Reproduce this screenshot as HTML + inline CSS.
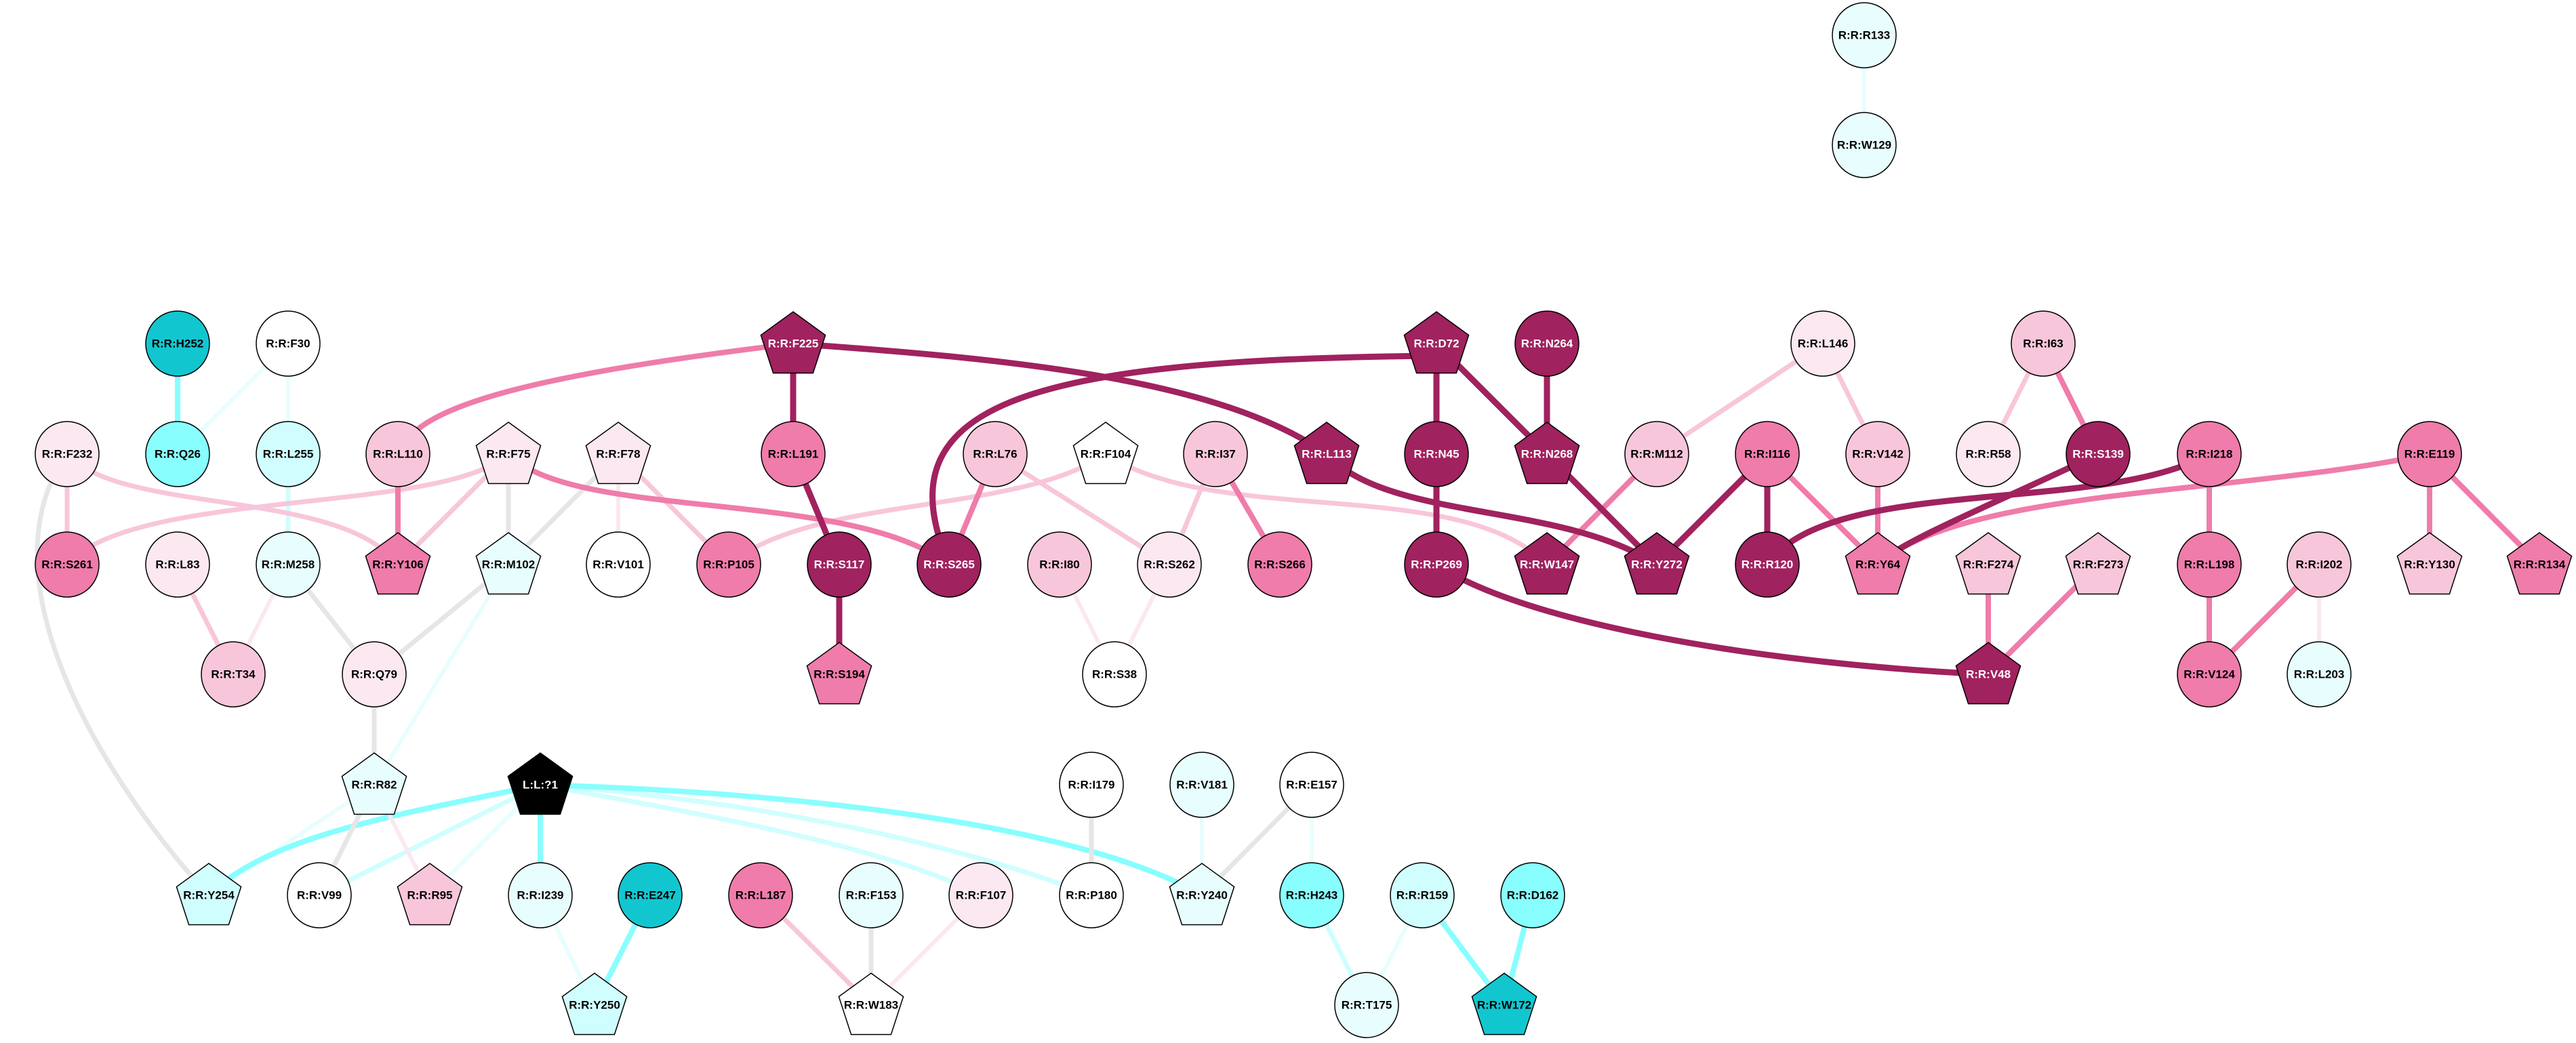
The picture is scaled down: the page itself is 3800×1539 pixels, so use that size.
<!DOCTYPE html>
<html><head><meta charset="utf-8"><style>
html,body{margin:0;padding:0;background:#fff;}
svg{display:block;}
text{font-family:"Liberation Sans",sans-serif;font-weight:bold;font-size:17px;text-anchor:middle;dominant-baseline:central;}
.w{fill:#fff;}
</style></head><body>
<svg width="3800" height="1539" viewBox="0 0 3800 1539" xmlns="http://www.w3.org/2000/svg">
<defs>
<polygon id="pg" points="0,-47 47.6,-12.5 29.4,43.5 -29.4,43.5 -47.6,-12.5" stroke="#000" stroke-width="1.5"/>
</defs>
<g fill="none" stroke-linecap="butt">
<!-- cyan/gray/light edges -->
<g stroke="#e8fefe" stroke-width="6">
<line x1="425" y1="507" x2="262" y2="670"/>
<line x1="425" y1="507" x2="425" y2="670"/>
<line x1="750" y1="833" x2="552" y2="1158"/>
<line x1="552" y1="1158" x2="308" y2="1321"/>
<line x1="797" y1="1158" x2="634" y2="1321"/>
<line x1="797" y1="1321" x2="877" y2="1483"/>
<line x1="1773" y1="1158" x2="1773" y2="1321"/>
<line x1="1935" y1="1158" x2="1935" y2="1321"/>
<line x1="2098" y1="1321" x2="2016" y2="1483"/>
<line x1="2750" y1="52" x2="2750" y2="214"/>
</g>
<g stroke="#d0fefe" stroke-width="7">
<line x1="425" y1="670" x2="425" y2="833"/>
<line x1="797" y1="1158" x2="471" y2="1321"/>
<line x1="1935" y1="1321" x2="2016" y2="1483"/>
<path d="M797,1158 C1100,1180 1400,1240 1610,1321"/>
<path d="M797,1158 C1000,1195 1300,1245 1447,1321"/>
</g>
<g stroke="#88fefe" stroke-width="8">
<line x1="262" y1="507" x2="262" y2="670"/>
<line x1="797" y1="1158" x2="797" y2="1321"/>
<line x1="959" y1="1321" x2="877" y2="1483"/>
<line x1="2098" y1="1321" x2="2219" y2="1483"/>
<line x1="2261" y1="1321" x2="2219" y2="1483"/>
<path d="M797,1158 C600,1200 400,1230 308,1321"/>
<path d="M797,1158 C1200,1170 1600,1220 1773,1321"/>
</g>
<g stroke="#e6e6e6" stroke-width="7">
<line x1="750" y1="670" x2="750" y2="833"/>
<line x1="912" y1="670" x2="750" y2="833"/>
<line x1="425" y1="833" x2="552" y2="995"/>
<line x1="750" y1="833" x2="552" y2="995"/>
<line x1="552" y1="995" x2="552" y2="1158"/>
<line x1="552" y1="1158" x2="471" y2="1321"/>
<line x1="1285" y1="1321" x2="1285" y2="1483"/>
<line x1="1610" y1="1158" x2="1610" y2="1321"/>
<line x1="1935" y1="1158" x2="1773" y2="1321"/>
<path d="M99,670 C-30,850 150,1150 308,1321"/>
</g>
<g stroke="#fbe8f0" stroke-width="6">
<line x1="912" y1="670" x2="912" y2="833"/>
<line x1="425" y1="833" x2="344" y2="995"/>
<line x1="552" y1="1158" x2="634" y2="1321"/>
<line x1="1563" y1="833" x2="1644" y2="995"/>
<line x1="1725" y1="833" x2="1644" y2="995"/>
<line x1="1447" y1="1321" x2="1285" y2="1483"/>
<line x1="3421" y1="833" x2="3421" y2="995"/>
</g>
<g stroke="#f8c6da" stroke-width="7">
<line x1="99" y1="670" x2="99" y2="833"/>
<line x1="750" y1="670" x2="587" y2="833"/>
<line x1="912" y1="670" x2="1075" y2="833"/>
<line x1="262" y1="833" x2="344" y2="995"/>
<line x1="1468" y1="670" x2="1725" y2="833"/>
<line x1="1793" y1="670" x2="1725" y2="833"/>
<line x1="1122" y1="1321" x2="1285" y2="1483"/>
<line x1="2689" y1="507" x2="2444" y2="670"/>
<line x1="2689" y1="507" x2="2770" y2="670"/>
<line x1="3014" y1="507" x2="2933" y2="670"/>
<path d="M99,670 C180,760 500,720 587,833"/>
<path d="M750,670 C650,760 200,720 99,833"/>
<path d="M1631,670 C1500,760 1200,730 1075,833"/>
<path d="M1631,670 C1800,780 2150,700 2282,833"/>
</g>
<g stroke="#ef7caa" stroke-width="8">
<line x1="587" y1="670" x2="587" y2="833"/>
<line x1="1468" y1="670" x2="1400" y2="833"/>
<line x1="1793" y1="670" x2="1888" y2="833"/>
<line x1="2444" y1="670" x2="2282" y2="833"/>
<line x1="2770" y1="670" x2="2770" y2="833"/>
<line x1="2607" y1="670" x2="2770" y2="833"/>
<line x1="3014" y1="507" x2="3095" y2="670"/>
<line x1="3259" y1="670" x2="3259" y2="833"/>
<line x1="3259" y1="833" x2="3259" y2="995"/>
<line x1="3421" y1="833" x2="3259" y2="995"/>
<line x1="3584" y1="670" x2="3584" y2="833"/>
<line x1="3584" y1="670" x2="3746" y2="833"/>
<line x1="2933" y1="833" x2="2933" y2="995"/>
<line x1="3095" y1="833" x2="2933" y2="995"/>
<path d="M1170,507 C900,540 650,580 600,650"/>
<path d="M750,670 C850,770 1250,720 1400,833"/>
<path d="M3584,670 C3300,730 2900,720 2770,833"/>
</g>
<g stroke="#a0225e" stroke-width="9">
<line x1="1170" y1="507" x2="1170" y2="670"/>
<line x1="1170" y1="670" x2="1238" y2="833"/>
<line x1="1238" y1="833" x2="1238" y2="995"/>
<line x1="2119" y1="507" x2="2119" y2="670"/>
<line x1="2119" y1="507" x2="2282" y2="670"/>
<line x1="2282" y1="507" x2="2282" y2="670"/>
<line x1="2119" y1="670" x2="2119" y2="833"/>
<line x1="2282" y1="670" x2="2444" y2="833"/>
<line x1="2607" y1="670" x2="2607" y2="833"/>
<line x1="2607" y1="670" x2="2444" y2="833"/>
<path d="M1170,507 C1500,530 1800,560 1957,670"/>
<path d="M1957,670 C2050,770 2300,740 2444,833"/>
<path d="M2119,525 C1500,530 1300,600 1400,833"/>
<path d="M2119,833 C2250,920 2600,980 2933,995"/>
<path d="M3095,670 C2950,740 2800,800 2770,833"/>
<path d="M3259,670 C3100,760 2700,700 2607,833"/>
</g>
</g>
<!-- nodes -->
<g stroke="#000" stroke-width="1.5">
<ellipse cx="2750" cy="52" rx="47" ry="48" fill="#e8fefe"/>
<ellipse cx="2750" cy="214" rx="47" ry="48" fill="#e8fefe"/>
<ellipse cx="262" cy="507" rx="47" ry="48" fill="#12c6d0"/>
<ellipse cx="425" cy="507" rx="47" ry="48" fill="#fff"/>
<ellipse cx="2282" cy="507" rx="47" ry="48" fill="#a0225e"/>
<ellipse cx="2689" cy="507" rx="47" ry="48" fill="#fbe8f0"/>
<ellipse cx="3014" cy="507" rx="47" ry="48" fill="#f8c6da"/>
<ellipse cx="99" cy="670" rx="47" ry="48" fill="#fbe8f0"/>
<ellipse cx="262" cy="670" rx="47" ry="48" fill="#88fefe"/>
<ellipse cx="425" cy="670" rx="47" ry="48" fill="#d0fefe"/>
<ellipse cx="587" cy="670" rx="47" ry="48" fill="#f8c6da"/>
<ellipse cx="1170" cy="670" rx="47" ry="48" fill="#ef7caa"/>
<ellipse cx="1468" cy="670" rx="47" ry="48" fill="#f8c6da"/>
<ellipse cx="1793" cy="670" rx="47" ry="48" fill="#f8c6da"/>
<ellipse cx="2119" cy="670" rx="47" ry="48" fill="#a0225e"/>
<ellipse cx="2444" cy="670" rx="47" ry="48" fill="#f8c6da"/>
<ellipse cx="2607" cy="670" rx="47" ry="48" fill="#ef7caa"/>
<ellipse cx="2770" cy="670" rx="47" ry="48" fill="#f8c6da"/>
<ellipse cx="2933" cy="670" rx="47" ry="48" fill="#fbe8f0"/>
<ellipse cx="3095" cy="670" rx="47" ry="48" fill="#a0225e"/>
<ellipse cx="3259" cy="670" rx="47" ry="48" fill="#ef7caa"/>
<ellipse cx="3584" cy="670" rx="47" ry="48" fill="#ef7caa"/>
<ellipse cx="99" cy="833" rx="47" ry="48" fill="#ef7caa"/>
<ellipse cx="262" cy="833" rx="47" ry="48" fill="#fbe8f0"/>
<ellipse cx="425" cy="833" rx="47" ry="48" fill="#e8fefe"/>
<ellipse cx="912" cy="833" rx="47" ry="48" fill="#fff"/>
<ellipse cx="1075" cy="833" rx="47" ry="48" fill="#ef7caa"/>
<ellipse cx="1238" cy="833" rx="47" ry="48" fill="#a0225e"/>
<ellipse cx="1400" cy="833" rx="47" ry="48" fill="#a0225e"/>
<ellipse cx="1563" cy="833" rx="47" ry="48" fill="#f8c6da"/>
<ellipse cx="1725" cy="833" rx="47" ry="48" fill="#fbe8f0"/>
<ellipse cx="1888" cy="833" rx="47" ry="48" fill="#ef7caa"/>
<ellipse cx="2119" cy="833" rx="47" ry="48" fill="#a0225e"/>
<ellipse cx="2607" cy="833" rx="47" ry="48" fill="#a0225e"/>
<ellipse cx="3259" cy="833" rx="47" ry="48" fill="#ef7caa"/>
<ellipse cx="3421" cy="833" rx="47" ry="48" fill="#f8c6da"/>
<ellipse cx="344" cy="995" rx="47" ry="48" fill="#f8c6da"/>
<ellipse cx="552" cy="995" rx="47" ry="48" fill="#fbe8f0"/>
<ellipse cx="1644" cy="995" rx="47" ry="48" fill="#fff"/>
<ellipse cx="3259" cy="995" rx="47" ry="48" fill="#ef7caa"/>
<ellipse cx="3421" cy="995" rx="47" ry="48" fill="#e8fefe"/>
<ellipse cx="1610" cy="1158" rx="47" ry="48" fill="#fff"/>
<ellipse cx="1773" cy="1158" rx="47" ry="48" fill="#e8fefe"/>
<ellipse cx="1935" cy="1158" rx="47" ry="48" fill="#fff"/>
<ellipse cx="471" cy="1321" rx="47" ry="48" fill="#fff"/>
<ellipse cx="797" cy="1321" rx="47" ry="48" fill="#e8fefe"/>
<ellipse cx="959" cy="1321" rx="47" ry="48" fill="#12c6d0"/>
<ellipse cx="1122" cy="1321" rx="47" ry="48" fill="#ef7caa"/>
<ellipse cx="1285" cy="1321" rx="47" ry="48" fill="#e8fefe"/>
<ellipse cx="1447" cy="1321" rx="47" ry="48" fill="#fbe8f0"/>
<ellipse cx="1610" cy="1321" rx="47" ry="48" fill="#fff"/>
<ellipse cx="1935" cy="1321" rx="47" ry="48" fill="#88fefe"/>
<ellipse cx="2098" cy="1321" rx="47" ry="48" fill="#d0fefe"/>
<ellipse cx="2261" cy="1321" rx="47" ry="48" fill="#88fefe"/>
<ellipse cx="2016" cy="1483" rx="47" ry="48" fill="#e8fefe"/>
</g>
<use href="#pg" x="1170" y="507" fill="#a0225e"/>
<use href="#pg" x="2119" y="507" fill="#a0225e"/>
<use href="#pg" x="750" y="670" fill="#fbe8f0"/>
<use href="#pg" x="912" y="670" fill="#fbe8f0"/>
<use href="#pg" x="1631" y="670" fill="#fff"/>
<use href="#pg" x="1957" y="670" fill="#a0225e"/>
<use href="#pg" x="2282" y="670" fill="#a0225e"/>
<use href="#pg" x="587" y="833" fill="#ef7caa"/>
<use href="#pg" x="750" y="833" fill="#e8fefe"/>
<use href="#pg" x="2282" y="833" fill="#a0225e"/>
<use href="#pg" x="2444" y="833" fill="#a0225e"/>
<use href="#pg" x="2770" y="833" fill="#ef7caa"/>
<use href="#pg" x="2933" y="833" fill="#f8c6da"/>
<use href="#pg" x="3095" y="833" fill="#f8c6da"/>
<use href="#pg" x="3584" y="833" fill="#f8c6da"/>
<use href="#pg" x="3746" y="833" fill="#ef7caa"/>
<use href="#pg" x="1238" y="995" fill="#ef7caa"/>
<use href="#pg" x="2933" y="995" fill="#a0225e"/>
<use href="#pg" x="552" y="1158" fill="#e8fefe"/>
<use href="#pg" x="797" y="1158" fill="#000"/>
<use href="#pg" x="308" y="1321" fill="#d0fefe"/>
<use href="#pg" x="634" y="1321" fill="#f8c6da"/>
<use href="#pg" x="1773" y="1321" fill="#e8fefe"/>
<use href="#pg" x="877" y="1483" fill="#d0fefe"/>
<use href="#pg" x="1285" y="1483" fill="#fff"/>
<use href="#pg" x="2219" y="1483" fill="#12c6d0"/>
<!-- labels -->
<g>
<text x="2750" y="52">R:R:R133</text>
<text x="2750" y="214">R:R:W129</text>
<text x="262" y="507">R:R:H252</text>
<text x="425" y="507">R:R:F30</text>
<text x="1170" y="507" class="w">R:R:F225</text>
<text x="2119" y="507" class="w">R:R:D72</text>
<text x="2282" y="507" class="w">R:R:N264</text>
<text x="2689" y="507">R:R:L146</text>
<text x="3014" y="507">R:R:I63</text>
<text x="99" y="670">R:R:F232</text>
<text x="262" y="670">R:R:Q26</text>
<text x="425" y="670">R:R:L255</text>
<text x="587" y="670">R:R:L110</text>
<text x="750" y="670">R:R:F75</text>
<text x="912" y="670">R:R:F78</text>
<text x="1170" y="670">R:R:L191</text>
<text x="1468" y="670">R:R:L76</text>
<text x="1631" y="670">R:R:F104</text>
<text x="1793" y="670">R:R:I37</text>
<text x="1957" y="670" class="w">R:R:L113</text>
<text x="2119" y="670" class="w">R:R:N45</text>
<text x="2282" y="670" class="w">R:R:N268</text>
<text x="2444" y="670">R:R:M112</text>
<text x="2607" y="670">R:R:I116</text>
<text x="2770" y="670">R:R:V142</text>
<text x="2933" y="670">R:R:R58</text>
<text x="3095" y="670" class="w">R:R:S139</text>
<text x="3259" y="670">R:R:I218</text>
<text x="3584" y="670">R:R:E119</text>
<text x="99" y="833">R:R:S261</text>
<text x="262" y="833">R:R:L83</text>
<text x="425" y="833">R:R:M258</text>
<text x="587" y="833">R:R:Y106</text>
<text x="750" y="833">R:R:M102</text>
<text x="912" y="833">R:R:V101</text>
<text x="1075" y="833">R:R:P105</text>
<text x="1238" y="833" class="w">R:R:S117</text>
<text x="1400" y="833" class="w">R:R:S265</text>
<text x="1563" y="833">R:R:I80</text>
<text x="1725" y="833">R:R:S262</text>
<text x="1888" y="833">R:R:S266</text>
<text x="2119" y="833" class="w">R:R:P269</text>
<text x="2282" y="833" class="w">R:R:W147</text>
<text x="2444" y="833" class="w">R:R:Y272</text>
<text x="2607" y="833" class="w">R:R:R120</text>
<text x="2770" y="833">R:R:Y64</text>
<text x="2933" y="833">R:R:F274</text>
<text x="3095" y="833">R:R:F273</text>
<text x="3259" y="833">R:R:L198</text>
<text x="3421" y="833">R:R:I202</text>
<text x="3584" y="833">R:R:Y130</text>
<text x="3746" y="833">R:R:R134</text>
<text x="344" y="995">R:R:T34</text>
<text x="552" y="995">R:R:Q79</text>
<text x="1238" y="995">R:R:S194</text>
<text x="1644" y="995">R:R:S38</text>
<text x="2933" y="995" class="w">R:R:V48</text>
<text x="3259" y="995">R:R:V124</text>
<text x="3421" y="995">R:R:L203</text>
<text x="552" y="1158">R:R:R82</text>
<text x="797" y="1158" class="w">L:L:?1</text>
<text x="1610" y="1158">R:R:I179</text>
<text x="1773" y="1158">R:R:V181</text>
<text x="1935" y="1158">R:R:E157</text>
<text x="308" y="1321">R:R:Y254</text>
<text x="471" y="1321">R:R:V99</text>
<text x="634" y="1321">R:R:R95</text>
<text x="797" y="1321">R:R:I239</text>
<text x="959" y="1321">R:R:E247</text>
<text x="1122" y="1321">R:R:L187</text>
<text x="1285" y="1321">R:R:F153</text>
<text x="1447" y="1321">R:R:F107</text>
<text x="1610" y="1321">R:R:P180</text>
<text x="1773" y="1321">R:R:Y240</text>
<text x="1935" y="1321">R:R:H243</text>
<text x="2098" y="1321">R:R:R159</text>
<text x="2261" y="1321">R:R:D162</text>
<text x="877" y="1483">R:R:Y250</text>
<text x="1285" y="1483">R:R:W183</text>
<text x="2016" y="1483">R:R:T175</text>
<text x="2219" y="1483">R:R:W172</text>
</g>
</svg>
</body></html>
